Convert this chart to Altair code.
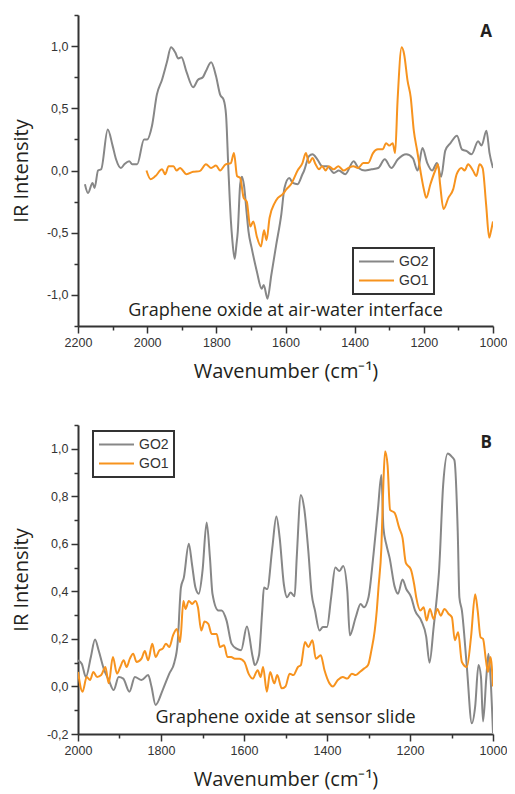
import altair as alt
import pandas as pd

# ---------------- Panel A: air-water interface ----------------
a_go2_wn = [2180, 2171, 2158, 2152, 2142, 2133, 2114, 2100, 2090, 2076, 2066, 2052, 2043, 2029,
            2009, 2000, 1986, 1972, 1957, 1943, 1931, 1919, 1910, 1901, 1886, 1867, 1853, 1839,
            1830, 1815, 1801, 1789, 1779, 1772, 1765, 1758, 1754, 1747, 1742, 1738, 1731, 1726,
            1720, 1712, 1707, 1698, 1683, 1669, 1663, 1652, 1641, 1627, 1612, 1603, 1589, 1579,
            1565, 1551, 1546, 1532, 1522, 1508, 1494, 1479, 1460, 1446, 1427, 1403, 1389, 1370,
            1351, 1332, 1313, 1294, 1275, 1251, 1232, 1218, 1204, 1190, 1176, 1162, 1150, 1138,
            1123, 1104, 1090, 1076, 1062, 1043, 1033, 1019, 1010, 1000]
a_go2_val = [-0.11, -0.18, -0.10, -0.14, 0.0, 0.01, 0.33, 0.20, 0.09, 0.02, 0.05, 0.075, 0.05, 0.05,
             0.25, 0.25, 0.36, 0.61, 0.73, 0.87, 0.99, 0.95, 0.90, 0.91, 0.79, 0.67, 0.73, 0.75,
             0.80, 0.87, 0.76, 0.61, 0.57, 0.45, 0.0, -0.40, -0.55, -0.71, -0.60, -0.49, -0.11, -0.05,
             -0.12, -0.35, -0.49, -0.62, -0.81, -0.95, -0.92, -1.03, -0.84, -0.60, -0.35, -0.14, -0.06, -0.10,
             -0.11, -0.03, 0.0, 0.115, 0.13, 0.09, 0.035, 0.035, -0.02, 0.0, -0.03, 0.075, 0.02, 0.0,
             0.01, 0.02, 0.09, 0.02, 0.09, 0.13, 0.10, 0.0, 0.18, 0.06, 0.0, 0.06, -0.05, 0.16,
             0.22, 0.28, 0.17, 0.155, 0.13, 0.235, 0.20, 0.32, 0.14, 0.02]

a_go1_wn = [2002, 1990, 1976, 1957, 1948, 1938, 1924, 1915, 1905, 1886, 1867, 1848, 1830, 1815,
            1801, 1789, 1773, 1758, 1749, 1740, 1731, 1721, 1712, 1702, 1693, 1683, 1671, 1662,
            1655, 1646, 1631, 1622, 1608, 1597, 1584, 1565, 1551, 1541, 1532, 1522, 1513, 1503,
            1494, 1484, 1475, 1461, 1447, 1432, 1418, 1404, 1390, 1375, 1361, 1347, 1333, 1319,
            1309, 1300, 1290, 1283, 1276, 1264, 1257, 1247, 1238, 1229, 1219, 1210, 1200, 1193,
            1181, 1167, 1159, 1153, 1143, 1129, 1115, 1105, 1091, 1082, 1072, 1058, 1048, 1039,
            1030, 1020, 1011, 1006, 1000]
a_go1_val = [0.0, -0.07, -0.045, 0.01, -0.03, 0.035, 0.035, 0.0, 0.02, -0.03, -0.01, -0.005, 0.05, 0.02,
             0.04, 0.0, 0.05, 0.06, 0.14, -0.045, -0.06, -0.22, -0.25, -0.45, -0.41, -0.53, -0.61, -0.48,
             -0.56, -0.38, -0.26, -0.22, -0.19, -0.15, -0.11, 0.0, 0.06, 0.14, 0.06, 0.10, 0.05, 0.01,
             0.035, 0.0, 0.035, 0.01, 0.035, 0.0, 0.02, 0.035, 0.02, 0.06, 0.06, 0.14, 0.17, 0.17,
             0.22, 0.20, 0.22, 0.14, 0.56, 0.99, 0.935, 0.72, 0.59, 0.32, 0.155, 0.0, -0.15, -0.22,
             -0.11, 0.0, 0.05, -0.11, -0.31, -0.22, -0.15, -0.03, 0.02, 0.0, 0.05, 0.0, -0.045, 0.05,
             0.02, -0.27, -0.54, -0.49, -0.41]

# ---------------- Panel B: sensor slide ----------------
b_go2_wn = [2000, 1991, 1981, 1969, 1959, 1950, 1938, 1926, 1914, 1902, 1891, 1876, 1863, 1847,
            1831, 1823, 1813, 1796, 1780, 1768, 1760, 1752, 1745, 1733, 1725, 1717, 1709, 1700,
            1690, 1682, 1676, 1662, 1654, 1642, 1630, 1618, 1607, 1593, 1579, 1574, 1564, 1556,
            1552, 1544, 1532, 1522, 1514, 1504, 1496, 1488, 1478, 1473, 1463, 1455, 1445, 1437,
            1429, 1418, 1410, 1400, 1390, 1380, 1370, 1361, 1351, 1345, 1331, 1319, 1311, 1300,
            1288, 1277, 1269, 1264, 1257, 1249, 1237, 1229, 1218, 1209, 1197, 1188, 1173, 1161,
            1153, 1143, 1134, 1130, 1120, 1109, 1099, 1093, 1085, 1081, 1075, 1063, 1051, 1043,
            1035, 1029, 1024, 1016, 1011, 1006, 1000]
b_go2_val = [0.11, 0.096, 0.04, 0.124, 0.198, 0.15, 0.075, 0.027, -0.015, 0.04, 0.033, -0.022, 0.04, 0.027,
             0.048, 0.0, -0.078, -0.015, 0.054, 0.10, 0.18, 0.416, 0.458, 0.60, 0.51, 0.416, 0.39, 0.486,
             0.69, 0.54, 0.39, 0.32, 0.32, 0.277, 0.18, 0.159, 0.152, 0.252, 0.124, 0.09, 0.13, 0.32,
             0.416, 0.41, 0.58, 0.715, 0.625, 0.43, 0.375, 0.395, 0.38, 0.54, 0.806, 0.75, 0.57, 0.39,
             0.32, 0.235, 0.25, 0.25, 0.375, 0.50, 0.486, 0.507, 0.40, 0.215, 0.29, 0.347, 0.333, 0.375,
             0.555, 0.75, 0.89, 0.667, 0.597, 0.54, 0.42, 0.39, 0.45, 0.41, 0.375, 0.32, 0.277, 0.21,
             0.10, 0.25, 0.40, 0.486, 0.85, 0.98, 0.966, 0.952, 0.653, 0.375, 0.32, 0.082, -0.155, -0.085,
             0.09, 0.04, -0.147, 0.04, 0.138, 0.04, -0.196]

b_go1_wn = [2000, 1989, 1979, 1971, 1963, 1954, 1944, 1934, 1926, 1916, 1906, 1898, 1890, 1883,
            1875, 1867, 1859, 1847, 1839, 1831, 1821, 1813, 1804, 1796, 1788, 1780, 1771, 1762,
            1754, 1746, 1741, 1733, 1725, 1717, 1711, 1703, 1695, 1686, 1678, 1666, 1658, 1648,
            1640, 1631, 1622, 1611, 1599, 1589, 1579, 1567, 1560, 1554, 1545, 1537, 1527, 1520,
            1509, 1500, 1490, 1481, 1470, 1463, 1453, 1445, 1435, 1427, 1415, 1406, 1394, 1386,
            1374, 1362, 1351, 1340, 1331, 1321, 1311, 1301, 1293, 1285, 1280, 1276, 1269, 1264,
            1260, 1254, 1248, 1237, 1226, 1218, 1210, 1198, 1190, 1185, 1175, 1167, 1160, 1152,
            1143, 1134, 1126, 1117, 1107, 1099, 1092, 1084, 1075, 1063, 1053, 1043, 1037, 1030,
            1024, 1017, 1012, 1006, 1000]
b_go1_val = [0.061, -0.022, 0.04, 0.027, 0.061, 0.04, 0.048, 0.082, 0.013, 0.124, 0.054, 0.082, 0.11, 0.082,
             0.117, 0.138, 0.103, 0.117, 0.149, 0.11, 0.18, 0.124, 0.152, 0.159, 0.18, 0.166, 0.215, 0.242,
             0.187, 0.36, 0.326, 0.36, 0.347, 0.36, 0.333, 0.235, 0.273, 0.263, 0.221, 0.221, 0.166, 0.173,
             0.124, 0.124, 0.117, 0.117, 0.103, 0.054, 0.033, 0.068, 0.04, 0.082, -0.022, 0.061, 0.013, 0.048,
             -0.008, 0.0, 0.054, 0.048, 0.082, 0.09, 0.187, 0.166, 0.194, 0.117, 0.131, 0.068, 0.013, 0.0,
             0.027, 0.04, 0.033, 0.054, 0.048, 0.061, 0.075, 0.09, 0.152, 0.235, 0.32, 0.415, 0.583, 0.862,
             0.99, 0.93, 0.743, 0.73, 0.667, 0.625, 0.52, 0.493, 0.43, 0.375, 0.32, 0.333, 0.277, 0.326,
             0.284, 0.326, 0.298, 0.326, 0.305, 0.291, 0.194, 0.228, 0.103, 0.082, 0.207, 0.388, 0.32, 0.207,
             0.2, 0.11, 0.061, 0.124, 0.0]

series_names = ["GO2", "GO1"]
x_title = "Wavenumber (cm\u207b\u00b9)"
y_title = "IR Intensity"

GRAY = "#878787"
ORANGE = "#f7931e"
AXC = "#333333"
TXT = "#231f20"
TITLE_FONT = "Open Sans"
LABEL_FONT = "Liberation Sans"

W = 415


def make_panel(go2_wn, go2_val, go1_wn, go1_val, xdom, ydom, xvals, yvals, ymult,
               label, note, lx, ly, note_y, label_y, h):
    df = pd.concat([
        pd.DataFrame({"wn": go2_wn, "val": go2_val, "series": series_names[0]}),
        pd.DataFrame({"wn": go1_wn, "val": go1_val, "series": series_names[1]}),
    ], ignore_index=True)

    major_y = f"abs(datum.value*{ymult} - round(datum.value*{ymult})) < 0.001"
    x_axis = alt.Axis(
        values=xvals, title=x_title,
        labelExpr="datum.value % 200 === 0 ? datum.value : ''",
        tickSize={"condition": {"test": "datum.value % 200 !== 0", "value": 4}, "value": 7},
        labelFlush=False, labelOverlap=False, grid=False,
        domainColor=AXC, domainWidth=2, tickColor=AXC, tickWidth=1.5,
        labelFont=LABEL_FONT, labelFontSize=12.5, labelColor=AXC, labelPadding=3,
        titleFont=TITLE_FONT, titleFontSize=20, titleFontWeight="normal", titleColor=TXT,
        titlePadding=13,
    )
    y_axis = alt.Axis(
        values=yvals, title=y_title,
        labelExpr=f"{major_y} ? replace(replace(format(datum.value, '.1f'), '.', ','), '\u2212', '-') : ''",
        tickSize={"condition": {"test": f"!({major_y})", "value": 4}, "value": 7},
        labelOverlap=False, grid=False,
        domainColor=AXC, domainWidth=2, tickColor=AXC, tickWidth=1.5,
        labelFont=LABEL_FONT, labelFontSize=12.5, labelColor=AXC, labelPadding=3,
        titleFont=TITLE_FONT, titleFontSize=20, titleFontWeight="normal", titleColor=TXT,
        titlePadding=15,
    )
    lines = alt.Chart(df).mark_line(strokeWidth=2, interpolate="monotone", clip=True).encode(
        x=alt.X("wn:Q", scale=alt.Scale(domain=xdom, nice=False, zero=False), axis=x_axis),
        y=alt.Y("val:Q", scale=alt.Scale(domain=ydom, nice=False, zero=False), axis=y_axis),
        color=alt.Color("series:N",
                        scale=alt.Scale(domain=series_names, range=[GRAY, ORANGE]),
                        legend=alt.Legend(orient="none", legendX=lx, legendY=ly, title=None,
                                          symbolType="stroke", symbolSize=1225,
                                          symbolStrokeWidth=2, labelFont=LABEL_FONT,
                                          labelFontSize=14, labelColor=AXC, labelOffset=4,
                                          strokeColor=AXC, fillColor="white", padding=5,
                                          clipHeight=17, rowPadding=2)),
        detail="series:N",
    )
    lab = alt.Chart(pd.DataFrame({"t": [label]})).mark_text(
        align="right", baseline="alphabetic", font=TITLE_FONT, fontSize=17,
        fontWeight="bold", color=TXT
    ).encode(x=alt.value(W - 1), y=alt.value(label_y), text="t:N")
    nt = alt.Chart(pd.DataFrame({"t": [note]})).mark_text(
        align="center", baseline="middle", font=TITLE_FONT, fontSize=18, color=TXT
    ).encode(x=alt.value(W / 2), y=alt.value(note_y), text="t:N")
    return alt.layer(lines, lab, nt).properties(width=W, height=h)


xa_vals = list(range(1000, 2201, 100))
ya_vals = [-1.25, -1.0, -0.75, -0.5, -0.25, 0.0, 0.25, 0.5, 0.75, 1.0, 1.25]
xb_vals = list(range(1000, 2001, 100))
yb_vals = [-0.2, -0.1, 0.0, 0.1, 0.2, 0.3, 0.4, 0.5, 0.6, 0.7, 0.8, 0.9, 1.0, 1.1]

panel_a = make_panel(a_go2_wn, a_go2_val, a_go1_wn, a_go1_val, [2200, 1000], [-1.25, 1.25],
                     xa_vals, ya_vals, 2, "A", "Graphene oxide at air-water interface",
                     275, 233, 296, 22, 311)
panel_b = make_panel(b_go2_wn, b_go2_val, b_go1_wn, b_go1_val, [2000, 1000], [-0.2, 1.1],
                     xb_vals, yb_vals, 5, "B", "Graphene oxide at sensor slide",
                     15, 6, 293, 23, 309)

chart = alt.vconcat(panel_a, panel_b, spacing=37).resolve_scale(
    x="independent", y="independent", color="independent"
).resolve_legend(color="independent").properties(
    padding={"left": 3, "top": 1, "right": 0, "bottom": 6}
).configure_view(stroke=None).configure_legend(strokeWidth=2)

chart.save("out.html", embed_options={"renderer": "svg", "actions": False})
